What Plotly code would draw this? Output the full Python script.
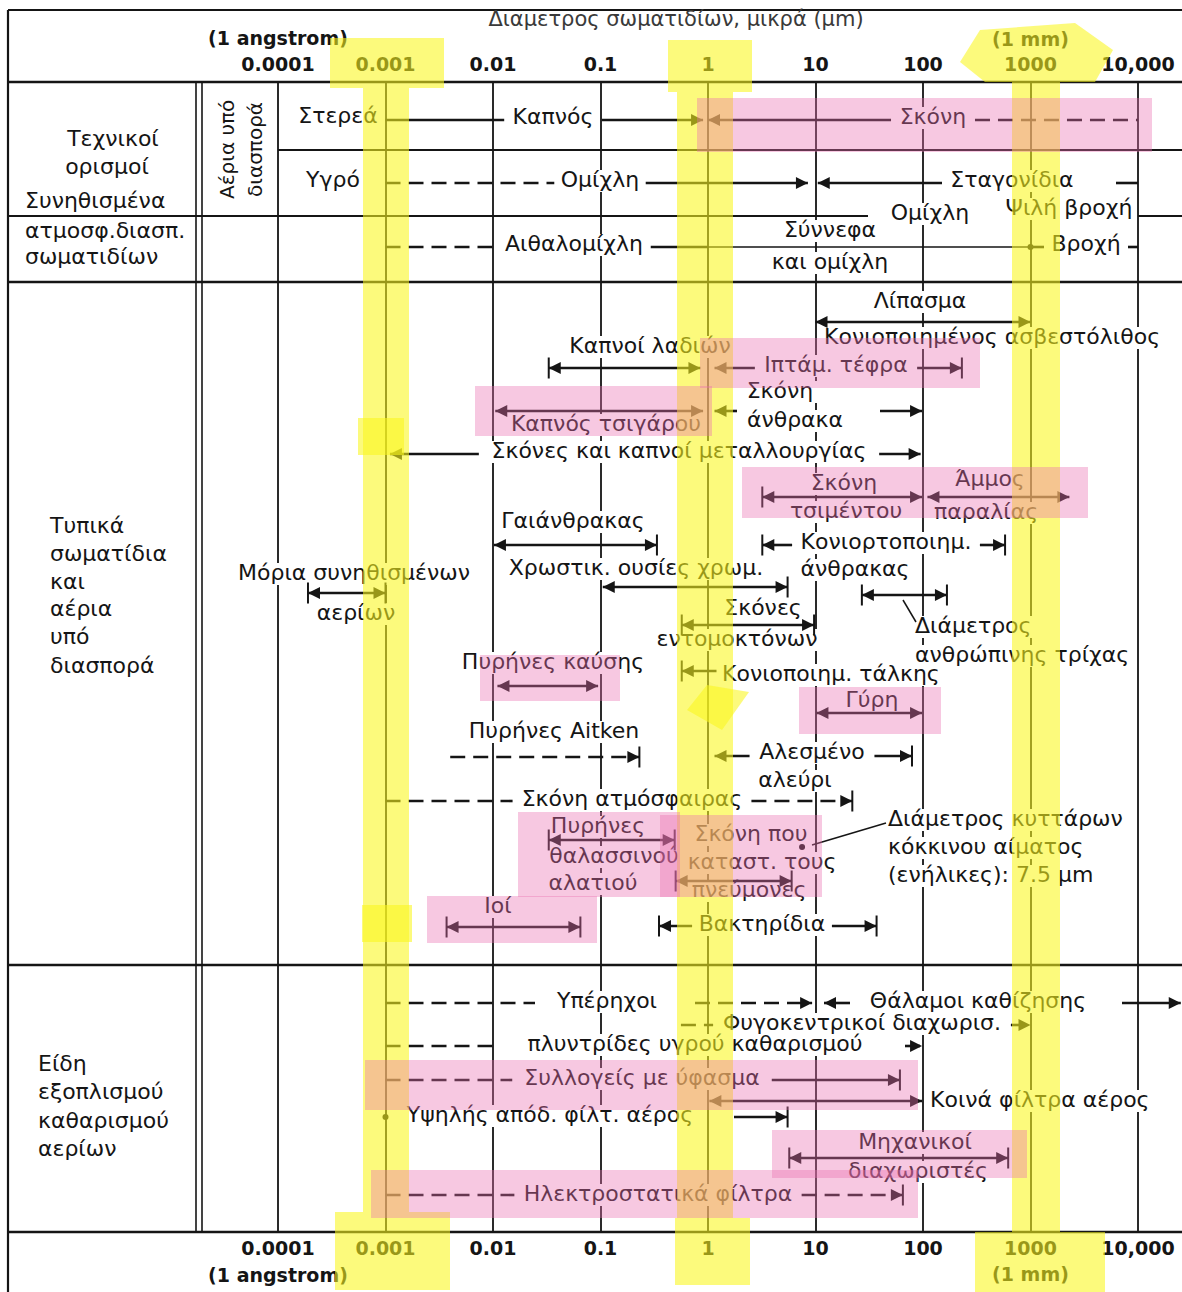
import numpy as np
import plotly.graph_objects as go

W, H = 1182, 1292
X_ONE, DEC = 708, 107.5   # x pixel of 1 μm and pixels per decade on the log axis


def px2um(x):
    return 10 ** ((x - X_ONE) / DEC)


# ---------------- axis ticks ----------------
tick_vals = [1e-4, 1e-3, 1e-2, 1e-1, 1, 10, 100, 1000, 10000]
tick_text = ["0.0001", "0.001", "0.01", "0.1", "1", "10", "100", "1000", "10,000"]

# ---------------- technical definitions / atmospheric dispersoids (μm) ----------------
tech_names = ["Καπνός", "Σκόνη", "Ομίχλη", "Σταγονίδια", "Αιθαλομίχλη",
              "Σύννεφα και ομίχλη", "Βροχή"]
tech_min = [0.001, 1.0, 0.001, 10.5, 0.001, 1.0, 1000]
tech_max = [0.9, 10000, 8.5, 10000, 1.0, 1000, 10000]

# ---------------- typical particles and gas dispersoids (μm) ----------------
particle_names = ["Λίπασμα", "Καπνοί λαδιών", "Ιπτάμ. τέφρα", "Σκόνη άνθρακα",
                  "Καπνός τσιγάρου", "Σκόνες και καπνοί μεταλλουργίας",
                  "Σκόνη τσιμέντου", "Άμμος παραλίας", "Γαιάνθρακας",
                  "Χρωστικ. ουσίες χρωμ.", "Κονιορτοποιημ. άνθρακας",
                  "Ανθρώπινη τρίχα", "Μόρια συνηθισμένων αερίων",
                  "Σκόνες εντομοκτόνων", "Πυρήνες καύσης", "Κονιοποιημ. τάλκης",
                  "Γύρη", "Πυρήνες Aitken", "Αλεσμένο αλεύρι", "Σκόνη ατμόσφαιρας",
                  "Πυρήνες θαλασσινού αλατιού", "Σκόνη που καταστ. τους πνεύμονες",
                  "Ιοί", "Βακτηρίδια"]
particle_min = [10, 0.033, 1.15, 1.15, 0.0105, 0.0011, 3.2, 110, 0.0102, 0.105,
                3.2, 27, 0.00019, 0.57, 0.011, 0.57, 10.2, 0.004, 1.15, 0.001,
                0.033, 0.5, 0.0037, 0.35]
particle_max = [1000, 0.85, 230, 98, 0.9, 95, 98, 2300, 0.335, 5.5,
                580, 167, 0.001, 9.7, 0.095, 1.2, 98, 0.23, 79, 22,
                0.49, 6.0, 0.065, 37]

# ---------------- gas cleaning equipment (μm) ----------------
equip_names = ["Υπέρηχοι", "Θάλαμοι καθίζησης", "Φυγοκεντρικοί διαχωρισ.",
               "πλυντρίδες υγρού καθαρισμού", "Συλλογείς με ύφασμα",
               "Κοινά φίλτρα αέρος", "Υψηλής απόδ. φίλτ. αέρος",
               "Μηχανικοί διαχωριστές", "Ηλεκτροστατικά φίλτρα"]
equip_min = [0.001, 12, 0.56, 0.001, 0.001, 1.03, 0.001, 5.7, 0.001]
equip_max = [9.3, 25000, 1000, 98, 61, 98, 5.5, 620, 65]

rbc_diameter = 7.5   # red blood cell, adults

# ---------------- styling ----------------
FONT = "DejaVu Sans"
INK = "#151515"
LS = 22
DASH = {"solid": "solid", "dash": "15px,8px"}
YEL = "rgba(250,246,30,0.58)"
PINK = "rgba(235,110,175,0.38)"

# row layout for each range: y row, end marks (a=arrow, t=tick, d=dot), dash, label gap, labels
tech_style = [
    dict(y=120, ends=("", "a"), gap="auto", labels=[("Καπνός", 553, 118)]),
    dict(y=120, ends=("a", ""), dash=("solid", "dash"), gap="auto", labels=[("Σκόνη", 933, 118)]),
    dict(y=183, ends=("", "a"), dash=("dash", "solid"), gap="auto", labels=[("Ομίχλη", 600, 181)]),
    dict(y=183, ends=("a", ""), gap=(942, 1116), labels=[("Σταγονίδια", 1012, 181)]),
    dict(y=247, ends=("", ""), dash=("dash", "solid"), gap="auto", labels=[("Αιθαλομίχλη", 574, 245)]),
    dict(y=247, ends=("", "d"), width=1.4, labels=[("Σύννεφα", 830, 231), ("και ομίχλη", 830, 263)]),
    dict(y=247, ends=("", ""), gap="auto", labels=[("Βροχή", 1086, 245)]),
]

particle_style = [
    dict(y=322, labels=[("Λίπασμα", 920, 302), ("Κονιοποιημένος ασβεστόλιθος", 824, 338, "l")]),
    dict(y=368, ends=("ta", "a"), labels=[("Καπνοί λαδιών", 650, 347)]),
    dict(y=368, ends=("a", "at"), gap="auto", labels=[("Ιπτάμ. τέφρα", 836, 366)]),
    dict(y=411, gap=(737, 880), labels=[("Σκόνη", 780, 392), ("άνθρακα", 795, 421)]),
    dict(y=411, labels=[("Καπνός τσιγάρου", 606, 425)]),
    dict(y=454, gap="auto", labels=[("Σκόνες και καπνοί μεταλλουργίας", 679, 452)]),
    dict(y=497, ends=("ta", "a"), labels=[("Σκόνη", 844, 484), ("τσιμέντου", 846, 512)]),
    dict(y=497, labels=[("Άμμος", 990, 480), ("παραλίας", 986, 513)]),
    dict(y=545, ends=("a", "at"), labels=[("Γαιάνθρακας", 573, 522)]),
    dict(y=587, ends=("a", "at"), labels=[("Χρωστικ. ουσίες χρωμ.", 636, 569)]),
    dict(y=545, ends=("ta", "at"), gap="auto", labels=[("Κονιορτοποιημ.", 886, 543), ("άνθρακας", 855, 570)]),
    dict(y=595, ends=("ta", "at"), labels=[("Διάμετρος", 915, 627, "l"), ("ανθρώπινης τρίχας", 915, 656, "l")]),
    dict(y=593, ends=("ta", "at"), labels=[("Μόρια συνηθισμένων", 354, 574), ("αερίων", 356, 614)]),
    dict(y=625, ends=("ta", "at"), labels=[("Σκόνες", 763, 609), ("εντομοκτόνων", 737, 640)]),
    dict(y=686, labels=[("Πυρήνες καύσης", 553, 663)]),
    dict(y=671, ends=("ta", ""), labels=[("Κονιοποιημ. τάλκης", 722, 675, "l")]),
    dict(y=713, labels=[("Γύρη", 872, 701)]),
    dict(y=757, ends=("", "at"), dash=("dash", "dash"), labels=[("Πυρήνες Aitken", 554, 732)]),
    dict(y=756, ends=("a", "at"), gap="auto", labels=[("Αλεσμένο", 812, 753), ("αλεύρι", 795, 781)]),
    dict(y=801, ends=("", "at"), dash=("dash", "dash"), gap="auto", labels=[("Σκόνη ατμόσφαιρας", 632, 800)]),
    dict(y=840, ends=("ta", "at"), labels=[("Πυρήνες", 598, 827), ("θαλασσινού", 614, 857), ("αλατιού", 593, 884)]),
    dict(y=881, ends=("ta", "at"), labels=[("Σκόνη που", 751, 835), ("καταστ. τους", 762, 863), ("πνεύμονες", 749, 891)]),
    dict(y=927, ends=("ta", "at"), labels=[("Ιοί", 498, 907)]),
    dict(y=926, ends=("ta", "at"), gap="auto", labels=[("Βακτηρίδια", 762, 925)]),
]

equip_style = [
    dict(y=1003, ends=("", "a"), dash=("dash", "dash"), gap=(535, 695), labels=[("Υπέρηχοι", 607, 1002)]),
    dict(y=1003, gap=(850, 1122), labels=[("Θάλαμοι καθίζησης", 978, 1002)]),
    dict(y=1025, ends=("", "a"), dash=("dash", "dash"), gap="auto", labels=[("Φυγοκεντρικοί διαχωρισ.", 862, 1024)]),
    dict(y=1046, ends=("", "a"), dash=("dash", "dash"), gap=(500, 905), labels=[("πλυντρίδες υγρού καθαρισμού", 695, 1045)]),
    dict(y=1080, ends=("", "at"), dash=("dash", "solid"), gap="auto", labels=[("Συλλογείς με ύφασμα", 642, 1079)]),
    dict(y=1101, labels=[("Κοινά φίλτρα αέρος", 930, 1101, "l")]),
    dict(y=1117, ends=("d", "at"), gap=(385, 734), labels=[("Υψηλής απόδ. φίλτ. αέρος", 550, 1116)]),
    dict(y=1158, ends=("ta", "at"), labels=[("Μηχανικοί", 915, 1143), ("διαχωριστές", 918, 1172)]),
    dict(y=1195, ends=("", "at"), dash=("dash", "dash"), gap="auto", labels=[("Ηλεκτροστατικά φίλτρα", 658, 1195)]),
]

extra_labels = [("Ομίχλη", 930, 214, "c"), ("Ψιλή βροχή", 1069, 209, "c"),
                ("Διάμετρος κυττάρων", 888, 820, "l"), ("κόκκινου αίματος", 888, 848, "l"),
                ("(ενήλικες): 7.5 μm", 888, 876, "l")]

side_labels = [("Τεχνικοί", 113, 140, "c"), ("ορισμοί", 107, 168, "c"),
               ("Συνηθισμένα", 25, 202, "l"), ("ατμοσφ.διασπ.", 25, 232, "l"),
               ("σωματιδίων", 25, 258, "l"),
               ("Τυπικά", 50, 527, "l"), ("σωματίδια", 50, 555, "l"), ("και", 50, 583, "l"),
               ("αέρια", 50, 610, "l"), ("υπό", 50, 638, "l"), ("διασπορά", 50, 667, "l"),
               ("Είδη", 38, 1065, "l"), ("εξοπλισμού", 38, 1093, "l"),
               ("καθαρισμού", 38, 1122, "l"), ("αερίων", 38, 1150, "l"),
               ("Στερεά", 338, 117, "c"), ("Υγρό", 333, 181, "c")]


def text_w(s, size):
    em = 0.0
    for ch in s:
        if ch in " .,:":
            em += 0.32
        elif ch in "ιίϊΙi":
            em += 0.34
        elif ch in "()":
            em += 0.39
        elif ch in "ωψφΦΨΜm":
            em += 0.8
        elif ch.isdigit():
            em += 0.64
        elif ch.isupper():
            em += 0.7
        else:
            em += 0.62
    return em * size


segments = {}
arrow_x, arrow_y, arrow_sym = [], [], []
tick_x, tick_y = [], []
dot_x, dot_y = [rbc_diameter], [847]
labels = []


def add_range(lo, hi, st):
    y = st["y"]
    dash_l, dash_r = st.get("dash", ("solid", "solid"))
    width = st.get("width", 2.6)
    labs = [l if len(l) == 4 else (*l, "c") for l in st.get("labels", [])]
    gap = st.get("gap")
    if gap == "auto":
        half = text_w(labs[0][0], LS) / 2 + 7
        gap = (labs[0][1] - half, labs[0][1] + half)
    if gap is None:
        parts = [(lo, hi, dash_l)]
    else:
        parts = [(lo, px2um(gap[0]), dash_l), (px2um(gap[1]), hi, dash_r)]
    for a, b, d in parts:
        if b > a:
            xs, ys = segments.setdefault((d, width), ([], []))
            xs += [a, b, None]
            ys += [y, y, None]
    el, er = st.get("ends", ("a", "a"))
    for v, e, sym in ((lo, el, "arrow-left"), (hi, er, "arrow-right")):
        if "a" in e:
            arrow_x.append(v); arrow_y.append(y); arrow_sym.append(sym)
        if "t" in e:
            tick_x.append(v); tick_y.append(y)
        if "d" in e:
            dot_x.append(v); dot_y.append(y)
    labels.extend(labs)


for names, lows, highs, styles in ((tech_names, tech_min, tech_max, tech_style),
                                   (particle_names, particle_min, particle_max, particle_style),
                                   (equip_names, equip_min, equip_max, equip_style)):
    for name, lo, hi, st in zip(names, lows, highs, styles):
        add_range(lo, hi, st)
labels.extend(extra_labels)

fig = go.Figure()

for (d, w), (xs, ys) in segments.items():
    fig.add_trace(go.Scatter(x=xs, y=ys, mode="lines", hoverinfo="skip",
                             line=dict(color=INK, width=w, dash=DASH[d])))

fig.add_trace(go.Scatter(x=arrow_x, y=arrow_y, mode="markers", hoverinfo="skip",
                         marker=dict(symbol=arrow_sym, size=12, color=INK, line=dict(width=0))))
fig.add_trace(go.Scatter(x=tick_x, y=tick_y, mode="markers", hoverinfo="skip",
                         marker=dict(symbol="line-ns", size=15, line=dict(color=INK, width=2))))
fig.add_trace(go.Scatter(x=dot_x, y=dot_y, mode="markers", hoverinfo="skip",
                         marker=dict(symbol="circle", size=6, color=INK)))

all_text = labels + side_labels
fig.add_trace(go.Scatter(
    x=[px2um(l[1]) for l in all_text], y=[l[2] for l in all_text],
    text=[l[0] for l in all_text], mode="text", hoverinfo="skip",
    textposition=["middle right" if l[3] == "l" else "middle center" for l in all_text],
    textfont=dict(family=FONT, size=LS, color=INK)))

# header / footer scale labels
fig.add_trace(go.Scatter(
    x=tick_vals + tick_vals + [tick_vals[0], tick_vals[0], 1000, 1000],
    y=[66] * 9 + [1250] * 9 + [40, 1277, 41, 1276],
    text=tick_text + tick_text + ["(1 angstrom)", "(1 angstrom)", "(1 mm)", "(1 mm)"],
    mode="text", hoverinfo="skip",
    textfont=dict(family=FONT, size=19, color=INK, weight="bold")))
fig.add_trace(go.Scatter(
    x=[px2um(676)], y=[21], text=["Διαμετρος σωματιδίων, μικρά (μm)"], mode="text",
    hoverinfo="skip", textfont=dict(family=FONT, size=21, color="#3a3a3a")))

shapes = []


def rect(x0, y0, x1, y1, color, layer):
    shapes.append(dict(type="rect", xref="x", yref="y", x0=px2um(x0), x1=px2um(x1),
                       y0=y0, y1=y1, fillcolor=color, line=dict(width=0), layer=layer))


def line(x0, y0, x1, y1, w=2.2):
    shapes.append(dict(type="line", xref="x", yref="y", x0=px2um(x0), x1=px2um(x1),
                       y0=y0, y1=y1, line=dict(color=INK, width=w), layer="between"))


def poly(pts, color):
    path = "M" + " L".join(f"{x / W:.5f},{y}" for x, y in pts) + " Z"
    shapes.append(dict(type="path", xref="paper", yref="y", path=path,
                       fillcolor=color, line=dict(width=0), layer="above"))


# white cover for gridlines in header/footer and behind labels
rect(0, 0, W, 81, "white", "between")
rect(0, 1233, W, H, "white", "between")
for t, x, y, al in labels:
    w = text_w(t, LS)
    x0 = x - w / 2 - 3 if al == "c" else x - 2
    rect(x0, y - 11, x0 + w + 6, y + 11, "white", "between")

# table frame
for x0, y0, x1, y1, w in [(8, 10, W, 10, 2), (8, 10, 8, H, 2.2), (8, 82, W, 82, 2.4),
                          (278, 150, W, 150, 2), (8, 216, 868, 216, 2), (1138, 216, W, 216, 2),
                          (8, 282, W, 282, 2.4), (8, 965, W, 965, 2.4), (8, 1232, W, 1232, 2.4),
                          (196, 82, 196, 1232, 1.6), (202, 82, 202, 1232, 1.6)]:
    line(x0, y0, x1, y1, w)
# pointer lines
line(903, 600, 916, 622, 1.5)
line(812, 845, 886, 823, 1.5)

# highlighter marks
for x0, y0, x1, y1 in [(330, 38, 444, 88), (363, 88, 409, 1212), (358, 418, 404, 455),
                       (362, 905, 412, 942), (335, 1212, 450, 1290),
                       (668, 40, 752, 92), (677, 92, 733, 1218), (675, 1218, 750, 1285),
                       (1012, 82, 1060, 1232), (975, 1232, 1105, H)]:
    rect(x0, y0, x1, y1, YEL, "above")
poly([(687, 710), (707, 685), (749, 692), (722, 730)], YEL)
poly([(960, 62), (980, 30), (1075, 23), (1113, 50), (1095, 82), (985, 82)], YEL)
for x0, y0, x1, y1 in [(697, 98, 1152, 152), (700, 338, 980, 388), (475, 386, 712, 436),
                       (742, 467, 1088, 518), (480, 655, 620, 701), (799, 687, 941, 734),
                       (518, 812, 680, 897), (660, 815, 822, 897), (427, 896, 597, 943),
                       (365, 1060, 918, 1110), (772, 1130, 1027, 1178), (371, 1170, 918, 1218)]:
    rect(x0, y0, x1, y1, PINK, "above")

fig.update_layout(
    width=W, height=H, margin=dict(l=0, r=0, t=0, b=0, pad=0),
    paper_bgcolor="white", plot_bgcolor="white", showlegend=False, hovermode=False,
    shapes=shapes,
    annotations=[
        dict(text="Αέρια υπό", x=227 / W, y=150, xref="paper", yref="y", textangle=-90,
             xanchor="center", yanchor="middle", showarrow=False,
             font=dict(family=FONT, size=20, color=INK)),
        dict(text="διασπορά", x=255 / W, y=150, xref="paper", yref="y", textangle=-90,
             xanchor="center", yanchor="middle", showarrow=False,
             font=dict(family=FONT, size=20, color=INK)),
    ],
)
fig.update_xaxes(type="log", range=[(0 - X_ONE) / DEC, (W - X_ONE) / DEC],
                 tickmode="array", tickvals=tick_vals, showticklabels=False, ticks="",
                 showgrid=True, gridcolor="#2a2a2a", gridwidth=1.5,
                 zeroline=False, showline=False)
fig.update_yaxes(range=[H, 0], visible=False)

fig.write_html("out.html", config={"displayModeBar": False},
               post_script="document.body.style.margin='0';")
